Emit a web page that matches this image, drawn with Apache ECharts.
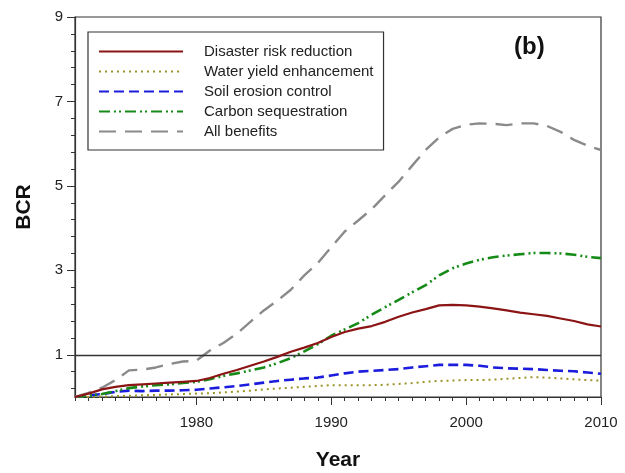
<!DOCTYPE html>
<html>
<head>
<meta charset="utf-8">
<script src="https://cdn.jsdelivr.net/npm/echarts@6/dist/echarts.min.js"></script>
<style>html,body{margin:0;padding:0;background:#fff}#c{width:625px;height:473px}</style>
</head>
<body>
<div id="c"></div>
<script>
var years = [];
for (var yr = 1971; yr <= 2010; yr++) years.push(String(yr));

var disasterRisk = [0.00,0.08,0.18,0.24,0.28,0.30,0.32,0.34,0.36,0.38,0.45,0.55,0.64,0.74,0.84,0.95,1.07,1.17,1.28,1.42,1.54,1.62,1.68,1.78,1.90,2.00,2.08,2.17,2.18,2.17,2.14,2.10,2.05,2.00,1.96,1.92,1.86,1.80,1.72,1.67];
var waterYield = [0.00,0.00,0.01,0.02,0.03,0.04,0.05,0.06,0.07,0.08,0.09,0.11,0.13,0.15,0.18,0.20,0.22,0.24,0.26,0.28,0.28,0.28,0.28,0.29,0.31,0.33,0.36,0.38,0.39,0.40,0.40,0.41,0.43,0.45,0.47,0.46,0.44,0.42,0.40,0.39];
var soilErosion = [0.00,0.04,0.07,0.12,0.15,0.14,0.15,0.15,0.16,0.17,0.20,0.23,0.26,0.30,0.34,0.38,0.41,0.44,0.46,0.51,0.56,0.60,0.62,0.64,0.66,0.70,0.73,0.76,0.76,0.76,0.74,0.70,0.68,0.67,0.66,0.64,0.62,0.61,0.58,0.55];
var carbonSeq = [0.00,0.03,0.07,0.14,0.21,0.25,0.28,0.30,0.33,0.36,0.42,0.50,0.56,0.63,0.70,0.80,0.92,1.08,1.25,1.45,1.60,1.75,1.95,2.13,2.30,2.48,2.65,2.88,3.05,3.16,3.25,3.31,3.35,3.38,3.41,3.41,3.40,3.37,3.32,3.29];
var allBenefits = [0.00,0.10,0.22,0.40,0.63,0.65,0.70,0.78,0.84,0.86,1.10,1.28,1.50,1.78,2.05,2.28,2.54,2.88,3.17,3.55,3.92,4.18,4.45,4.78,5.10,5.48,5.85,6.15,6.35,6.45,6.48,6.47,6.44,6.48,6.48,6.42,6.28,6.09,5.95,5.85];

var yTickValues = [];
for (var k = 0; k <= 45; k++) yTickValues.push((k * 0.2).toFixed(1));
var yTickLabels = ['1', '3', '5', '7', '9'];
var xTickLabels = ['1980', '1990', '2000', '2010'];

var FONT = 'Liberation Sans, Arial, sans-serif';
var chart = echarts.init(document.getElementById('c'), null, {renderer: 'canvas'});

function isMajorY(v) { return yTickLabels.indexOf(String(parseFloat(v))) >= 0; }

var option = {
  animation: false,
  backgroundColor: '#fff',
  grid: {left: 75, top: 17, right: 24, bottom: 76, show: true, borderColor: '#333', borderWidth: 1.2,
         containLabel: false, outerBoundsMode: 'none'},
  legend: {
    orient: 'vertical', left: 88, top: 32,
    itemWidth: 84, itemHeight: 14, itemGap: 5,
    padding: [12, 10, 11, 10],
    borderColor: '#333', borderWidth: 1.2,
    itemStyle: {opacity: 0},
    textStyle: {fontFamily: FONT, fontSize: 15, color: '#222', padding: [0, 0, 0, 16]},
    selectedMode: false
  },
  graphic: [{type: 'text', left: 514, top: 35, style: {text: '(b)', font: 'bold 24px ' + FONT, fill: '#111'}}],
  xAxis: [
    {type: 'category', data: years, boundaryGap: false,
     name: 'Year', nameLocation: 'middle', nameGap: 53,
     nameTextStyle: {fontFamily: FONT, fontSize: 21, fontWeight: 'bold', color: '#111'},
     axisLine: {show: true, lineStyle: {color: '#333', width: 1.2}},
     axisTick: {show: true, interval: 0, length: 4, lineStyle: {color: '#333'}},
     axisLabel: {interval: function (i, v) { return xTickLabels.indexOf(v) >= 0; }, margin: 18,
                 fontFamily: FONT, fontSize: 15, color: '#222'},
     splitLine: {show: false}},
    {type: 'category', data: years, boundaryGap: false, position: 'bottom',
     axisLine: {show: false},
     axisTick: {show: true, interval: function (i, v) { return xTickLabels.indexOf(v) >= 0; }, length: 8, lineStyle: {color: '#333'}},
     axisLabel: {show: false}, splitLine: {show: false}}
  ],
  yAxis: [
    {type: 'value', min: 0, max: 9,
     name: 'BCR', nameLocation: 'middle', nameGap: 40,
     nameTextStyle: {fontFamily: FONT, fontSize: 21, fontWeight: 'bold', color: '#111'},
     axisLine: {show: true, lineStyle: {color: '#333', width: 1.2}},
     axisTick: {show: false}, axisLabel: {show: false}, splitLine: {show: false}},
    {type: 'category', data: yTickValues, boundaryGap: false, position: 'left',
     axisLine: {show: false},
     axisTick: {show: true, interval: function (i) { return i % 2 === 1; }, length: 4, lineStyle: {color: '#333'}},
     axisLabel: {show: false}, splitLine: {show: false}},
    {type: 'category', data: yTickValues, boundaryGap: false, position: 'left',
     axisLine: {show: false},
     axisTick: {show: true, interval: function (i, v) { return isMajorY(v); }, length: 8, lineStyle: {color: '#333'}},
     axisLabel: {show: true, interval: function (i, v) { return isMajorY(v); },
                 formatter: function (v) { return String(parseFloat(v)); },
                 margin: 12, fontFamily: FONT, fontSize: 15, color: '#222'},
     splitLine: {show: false}}
  ],
  series: [
    {name: 'Disaster risk reduction', type: 'line', data: disasterRisk, symbol: 'none',
     lineStyle: {color: '#8b1414', width: 2.2, type: 'solid'}, itemStyle: {color: '#8b1414'},
     markLine: {silent: true, symbol: 'none', label: {show: false},
                lineStyle: {color: '#333', width: 1.3, type: 'solid'},
                data: [{yAxis: 1}]}, z: 5},
    {name: 'Water yield enhancement', type: 'line', data: waterYield, symbol: 'none',
     lineStyle: {color: '#9c9428', width: 2, type: [2, 4]}, itemStyle: {color: '#9c9428'}},
    {name: 'Soil erosion control', type: 'line', data: soilErosion, symbol: 'none',
     lineStyle: {color: '#1c1cdc', width: 2.6, type: [10, 5]}, itemStyle: {color: '#1c1cdc'}},
    {name: 'Carbon sequestration', type: 'line', data: carbonSeq, symbol: 'none',
     lineStyle: {color: '#168a16', width: 2.6, type: [11, 4, 2, 3, 2, 4]}, itemStyle: {color: '#168a16'}},
    {name: 'All benefits', type: 'line', data: allBenefits, symbol: 'none',
     lineStyle: {color: '#8a8a8a', width: 2.4, type: [17, 9]}, itemStyle: {color: '#8a8a8a'}}
  ]
};
chart.setOption(option);
</script>
</body>
</html>
